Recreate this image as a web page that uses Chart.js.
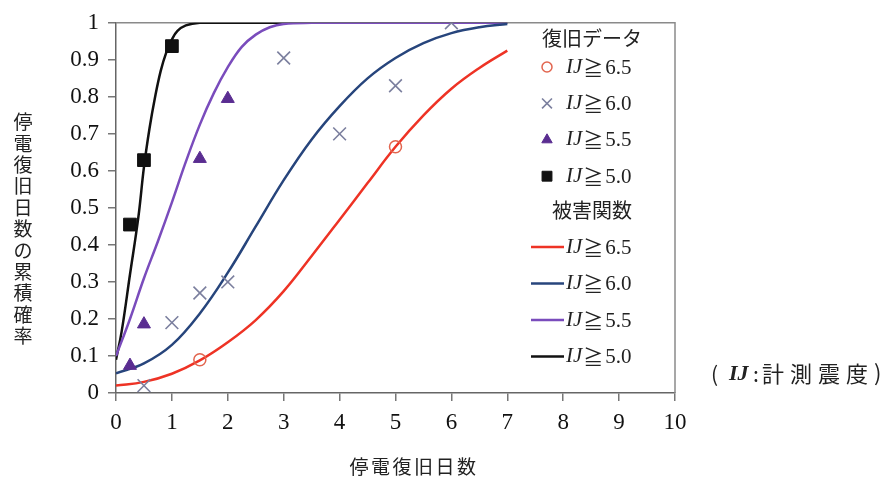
<!DOCTYPE html>
<html lang="ja">
<head>
<meta charset="utf-8">
<title>停電復旧日数の累積確率</title>
<script src="https://cdn.jsdelivr.net/npm/chart.js@4/dist/chart.umd.min.js"></script>
<style>
  html, body { margin: 0; padding: 0; background: #fff; }
  #wrap { width: 888px; height: 481px; position: relative; }
</style>
</head>
<body>
<div id="wrap"><canvas id="c" width="888" height="481"></canvas></div>
<script>
// ---- axis ticks ----
const dayTicks = [0, 1, 2, 3, 4, 5, 6, 7, 8, 9, 10];
const probTickLabels = ['0', '0.1', '0.2', '0.3', '0.4', '0.5', '0.6', '0.7', '0.8', '0.9', '1'];

// ---- 被害関数 (fitted curves) ----
const curveDays = [0, 0.5, 1, 1.5, 2, 2.5, 3, 3.5, 4, 4.5, 5, 5.5, 6, 6.5, 7];
const curve65 = [0.02, 0.03, 0.052, 0.088, 0.137, 0.197, 0.275, 0.37, 0.468, 0.567, 0.665, 0.75, 0.822, 0.878, 0.925];
const curve60 = [0.053, 0.08, 0.13, 0.215, 0.325, 0.45, 0.575, 0.685, 0.775, 0.85, 0.905, 0.945, 0.972, 0.988, 0.997];
const curveDays55 = [0, 0.25, 0.5, 0.75, 1, 1.25, 1.5, 1.75, 2, 2.25, 2.5, 2.75, 3, 3.5, 4, 5, 6, 7];
const curve55 = [0.1, 0.2, 0.31, 0.41, 0.515, 0.625, 0.725, 0.81, 0.88, 0.935, 0.968, 0.988, 0.997, 1, 1, 1, 1, 1];
const curveDays50 = [0, 0.1, 0.25, 0.4, 0.5, 0.6, 0.7, 0.8, 0.9, 1.0, 1.1, 1.25, 1.5, 2, 3, 4, 5, 6, 7];
const curve50 = [0.09, 0.165, 0.32, 0.475, 0.61, 0.715, 0.8, 0.87, 0.92, 0.955, 0.978, 0.993, 1, 1, 1, 1, 1, 1, 1];

// ---- 復旧データ (observed) ----
const obsDays65 = [1.5, 5];
const obsProb65 = [0.09, 0.665];
const obsDays60 = [0.5, 1, 1.5, 2, 3, 4, 5, 6];
const obsProb60 = [0.02, 0.19, 0.27, 0.30, 0.905, 0.70, 0.83, 1.0];
const obsDays55 = [0.25, 0.5, 1.5, 2];
const obsProb55 = [0.074, 0.186, 0.633, 0.795];
const obsDays50 = [0.25, 0.5, 1];
const obsProb50 = [0.455, 0.629, 0.937];

const levels = ['6.5', '6.0', '5.5', '5.0'];

const pts = (xs, ys) => xs.map((x, i) => ({ x: x, y: ys[i] }));

const SERIF = '"Liberation Serif", "DejaVu Serif", serif';
const CJK = '"Noto Sans CJK JP", "Noto Sans", sans-serif';
const TEXT = '#222';

const lineStyle = (color) => ({
  type: 'line', showLine: true, borderColor: color, backgroundColor: color,
  borderWidth: 2.5, pointRadius: 0, tension: 0.4, group: 'fit'
});

const datasets = [
  { label: 'IJ≧' + levels[0], data: pts(obsDays65, obsProb65), pointStyle: 'circle', pointRadius: 6,
    pointBorderColor: '#e2654f', pointBackgroundColor: 'rgba(255,255,255,0)', pointBorderWidth: 1.5, showLine: false,
    legendRadius: 5, group: 'obs' },
  { label: 'IJ≧' + levels[1], data: pts(obsDays60, obsProb60), pointStyle: 'crossRot', pointRadius: 9,
    pointBorderColor: '#7b7f9e', pointBackgroundColor: '#7b7f9e', pointBorderWidth: 1.6, showLine: false,
    legendRadius: 7, group: 'obs' },
  { label: 'IJ≧' + levels[2], data: pts(obsDays55, obsProb55), pointStyle: 'triangle', pointRadius: 7.5,
    pointBorderColor: '#5a2d91', pointBackgroundColor: '#5a2d91', pointBorderWidth: 1, showLine: false,
    legendRadius: 6, group: 'obs' },
  { label: 'IJ≧' + levels[3], data: pts(obsDays50, obsProb50), pointStyle: 'rect', pointRadius: 9,
    pointBorderColor: '#111', pointBackgroundColor: '#111', pointBorderWidth: 1, showLine: false,
    legendRadius: 7, group: 'obs' },
  Object.assign(lineStyle('#ee3325'), { label: 'IJ≧' + levels[0], data: pts(curveDays, curve65) }),
  Object.assign(lineStyle('#27457c'), { label: 'IJ≧' + levels[1], data: pts(curveDays, curve60) }),
  Object.assign(lineStyle('#7a4cbc'), { label: 'IJ≧' + levels[2], data: pts(curveDays55, curve55) }),
  Object.assign(lineStyle('#111111'), { label: 'IJ≧' + levels[3], data: pts(curveDays50, curve50) })
];

// frame around the plotting area
const framePlugin = {
  id: 'frame',
  beforeDatasetsDraw(chart) {
    const { ctx, chartArea: a } = chart;
    ctx.save();
    ctx.strokeStyle = '#8a8a8a';
    ctx.lineWidth = 1.5;
    ctx.beginPath();
    ctx.moveTo(a.left, a.top);
    ctx.lineTo(a.right, a.top);
    ctx.lineTo(a.right, a.bottom);
    ctx.stroke();
    ctx.restore();
  }
};

// "IJ≧x.x" label with italic IJ
function drawIJ(ctx, label, x, y, size) {
  const rest = label.replace('IJ≧', '');
  ctx.textBaseline = 'middle';
  ctx.textAlign = 'left';
  ctx.fillStyle = TEXT;
  ctx.font = 'italic ' + size + 'px ' + SERIF;
  ctx.fillText('IJ', x, y);
  x += ctx.measureText('IJ').width + 1;
  ctx.font = (size - 1) + 'px ' + CJK;
  ctx.fillText('≧', x, y + 1);
  x += ctx.measureText('≧').width + 2;
  ctx.font = size + 'px ' + SERIF;
  ctx.fillText(rest, x, y + 1);
}

// legend inside the plot, two groups
const legendPlugin = {
  id: 'twoGroupLegend',
  afterDatasetsDraw(chart) {
    const ctx = chart.ctx;
    const ds = chart.data.datasets;
    const cx = 592;
    ctx.save();
    ctx.fillStyle = TEXT;
    ctx.textAlign = 'center';
    ctx.textBaseline = 'middle';
    ctx.font = '20px ' + CJK;
    ctx.fillText('復旧データ', cx, 38);
    let y = 67;
    ds.filter(d => d.group === 'obs').forEach(d => {
      ctx.strokeStyle = d.pointBorderColor;
      ctx.fillStyle = d.pointBackgroundColor;
      ctx.lineWidth = d.pointBorderWidth;
      Chart.helpers.drawPoint(ctx, {
        pointStyle: d.pointStyle, radius: d.legendRadius, borderWidth: d.pointBorderWidth, rotation: 0
      }, 547, y);
      drawIJ(ctx, d.label, 566, y, 21);
      y += 36.4;
    });
    ctx.fillStyle = TEXT;
    ctx.textAlign = 'center';
    ctx.font = '20px ' + CJK;
    ctx.fillText('被害関数', cx, 210);
    y = 247;
    ds.filter(d => d.group === 'fit').forEach(d => {
      ctx.strokeStyle = d.borderColor;
      ctx.lineWidth = 2.5;
      ctx.beginPath();
      ctx.moveTo(531, y);
      ctx.lineTo(564, y);
      ctx.stroke();
      drawIJ(ctx, d.label, 566, y, 21);
      y += 36.5;
    });
    ctx.restore();
  }
};

// axis titles and the note on the right
const titlesPlugin = {
  id: 'titles',
  afterDraw(chart) {
    const ctx = chart.ctx;
    ctx.save();
    ctx.fillStyle = TEXT;
    ctx.textAlign = 'center';
    ctx.textBaseline = 'middle';
    ctx.font = '19px ' + CJK;
    [...'停電復旧日数の累積確率'].forEach((ch, i) => ctx.fillText(ch, 23, 122 + i * 21.4));
    [...'停電復旧日数'].forEach((ch, i) => ctx.fillText(ch, 359 + i * 21.5, 467));
    // note
    ctx.textAlign = 'left';
    ctx.font = '21px ' + CJK;
    ctx.fillText('(', 711, 374);
    ctx.font = 'italic bold 22px ' + SERIF;
    ctx.fillText('IJ', 729, 374);
    ctx.font = '21px ' + CJK;
    ctx.fillText(':', 753, 374);
    ctx.font = '22px ' + CJK;
    [...'計測震度'].forEach((ch, i) => ctx.fillText(ch, 762 + i * 28, 374));
    ctx.fillText(')', 874, 373);
    ctx.restore();
  }
};

new Chart(document.getElementById('c'), {
  type: 'scatter',
  data: { datasets: datasets },
  plugins: [framePlugin, legendPlugin, titlesPlugin],
  options: {
    responsive: false,
    animation: false,
    devicePixelRatio: 1,
    layout: { padding: { left: 0, top: 20, right: 213, bottom: 0 } },
    plugins: { legend: { display: false }, tooltip: { enabled: false } },
    scales: {
      x: {
        type: 'linear', min: dayTicks[0], max: dayTicks[dayTicks.length - 1],
        afterFit(s) { s.height = 88; },
        afterBuildTicks(s) { s.ticks = dayTicks.map(v => ({ value: v })); },
        ticks: { font: { family: SERIF, size: 23 }, color: '#111', padding: 8, maxRotation: 0 },
        grid: { drawOnChartArea: false, tickLength: 8, color: '#777', lineWidth: 1.5 },
        border: { color: '#666', width: 1.5 }
      },
      y: {
        type: 'linear', min: 0, max: 1,
        afterFit(s) { s.width = 116; },
        afterBuildTicks(s) { s.ticks = probTickLabels.map((t, i) => ({ value: i / 10 })); },
        ticks: {
          font: { family: SERIF, size: 23 }, color: '#111', padding: 9,
          callback: (v, i) => probTickLabels[i]
        },
        grid: { drawOnChartArea: false, tickLength: 8, color: '#777', lineWidth: 1.5 },
        border: { color: '#666', width: 1.5 }
      }
    }
  }
});
</script>
</body>
</html>
